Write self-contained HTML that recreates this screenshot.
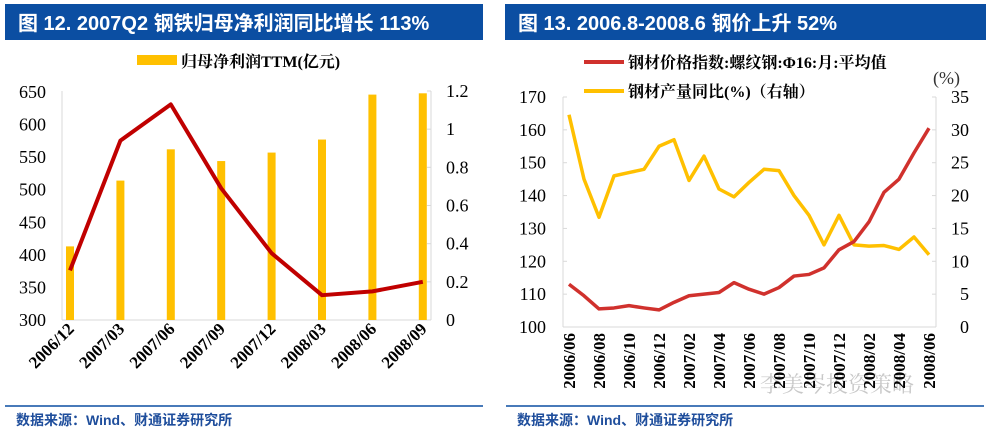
<!DOCTYPE html>
<html><head><meta charset="utf-8"><style>
body{margin:0;width:991px;height:430px;background:#fff;overflow:hidden}
svg text{font-family:"Liberation Serif","Noto Serif CJK SC",serif}
.h{font-family:"Liberation Sans","Noto Sans CJK SC",sans-serif;font-weight:bold}
</style></head><body>
<svg id="s" width="991" height="430" xmlns="http://www.w3.org/2000/svg">
<rect x="5" y="4" width="478" height="36" fill="#0b4ea2"/>
<text class="h" x="18" y="30" fill="#fff" font-size="20">图 12. 2007Q2 钢铁归母净利润同比增长 113%</text>
<rect x="505" y="4" width="481" height="36" fill="#0b4ea2"/>
<text class="h" x="518" y="30" fill="#fff" font-size="20">图 13. 2006.8-2008.6 钢价上升 52%</text>
<line x1="5" y1="406" x2="483" y2="406" stroke="#0b4ea2" stroke-width="1.5"/>
<line x1="506" y1="406" x2="984" y2="406" stroke="#0b4ea2" stroke-width="1.5"/>
<text class="h" x="16" y="425" fill="#1f4e9c" font-size="14">数据来源：Wind、财通证券研究所</text>
<text class="h" x="517" y="425" fill="#1f4e9c" font-size="14">数据来源：Wind、财通证券研究所</text>
<text x="760" y="392" fill="#bbb" font-size="22" font-family="Noto Sans CJK SC,sans-serif" opacity="0.8">李美岑投资策略</text>
<g id="L"></g><g id="R"></g>
</svg>
<script>
const NS="http://www.w3.org/2000/svg";
const lCats=["2006/12","2007/03","2007/06","2007/09","2007/12","2008/03","2008/06","2008/09"];
const lProfit=[413,514,562,544,557,577,646,648];
const lGrowth=[0.26,0.94,1.13,0.69,0.35,0.13,0.15,0.20];
const lLeftTicks=[300,350,400,450,500,550,600,650];
const lRightTicks=["0","0.2","0.4","0.6","0.8","1","1.2"];
const rCats=["2006/06","2006/07","2006/08","2006/09","2006/10","2006/11","2006/12","2007/01","2007/02","2007/03","2007/04","2007/05","2007/06","2007/07","2007/08","2007/09","2007/10","2007/11","2007/12","2008/01","2008/02","2008/03","2008/04","2008/05","2008/06"];
const rPrice=[113,109.5,105.5,105.8,106.5,105.8,105.2,107.5,109.5,110,110.5,113.5,111.5,110,112,115.5,116,118,123.5,126,132,141,145,153,160.5];
const rOutput=[32.3,22.5,16.7,23,23.5,24,27.5,28.5,22.3,26,21,19.8,22,24,23.8,20,17,12.5,17,12.5,12.3,12.4,11.8,13.7,11];
const rLeftTicks=[100,110,120,130,140,150,160,170];
const rRightTicks=[0,5,10,15,20,25,30,35];
function mk(p,t,a,n){const e=document.createElementNS(NS,t);for(const k in a)e.setAttribute(k,a[k]);if(n!=null)e.textContent=n;p.appendChild(e);return e;}
// Left chart
const L=document.getElementById('L');
const ly=v=>320-(v-300)/350*228, lyr=v=>320-v/1.2*229, lx=i=>70+i*50.4;
let e=mk(L,'line',{x1:62,y1:320,x2:431,y2:320,stroke:'#d9d9d9','stroke-width':1});

e=mk(L,'line',{x1:62,y1:91,x2:62,y2:320,stroke:'#d9d9d9'});
e=mk(L,'line',{x1:431,y1:91,x2:431,y2:320,stroke:'#d9d9d9'});
lLeftTicks.forEach(v=>{const t=mk(L,'text',{x:46,y:ly(v)+6,'text-anchor':'end','font-size':18,fill:'#000'},v);
});
lRightTicks.forEach(v=>{const y=lyr(+v);mk(L,'line',{x1:427,y1:y,x2:431,y2:y,stroke:'#d9d9d9'});
const t=mk(L,'text',{x:446,y:y+6,'font-size':18,fill:'#000'},v);});
lProfit.forEach((v,i)=>{const b=mk(L,'rect',{x:lx(i)-4,y:ly(v),width:8,height:320-ly(v),fill:'#ffc000'});
});
lCats.forEach((c,i)=>{const t=mk(L,'text',{transform:`translate(${lx(i)+5},330) rotate(-45)`,'text-anchor':'end','font-size':17,'font-weight':'bold',fill:'#000'},c);
});
e=mk(L,'polyline',{points:lGrowth.map((v,i)=>lx(i)+','+lyr(v)).join(' '),fill:'none',stroke:'#c00000','stroke-width':4,'stroke-linejoin':'round'});

e=mk(L,'rect',{x:137,y:55,width:40,height:10,fill:'#ffc000'});
e=mk(L,'text',{x:181,y:67,'font-size':16,'font-weight':'bold'},'归母净利润TTM(亿元)');
// Right chart
const R=document.getElementById('R');
const ry=v=>327-(v-100)/70*230, ryr=v=>327-v/35*230, rx=i=>569+i*15;
e=mk(R,'line',{x1:563,y1:327,x2:936,y2:327,stroke:'#d9d9d9'});
e=mk(R,'line',{x1:563,y1:97,x2:563,y2:327,stroke:'#d9d9d9'});
e=mk(R,'line',{x1:936,y1:97,x2:936,y2:327,stroke:'#d9d9d9'});
rLeftTicks.forEach(v=>{const y=ry(v);mk(R,'line',{x1:563,y1:y,x2:567,y2:y,stroke:'#d9d9d9'});
const t=mk(R,'text',{x:546,y:y+6,'text-anchor':'end','font-size':18},v);});
rRightTicks.forEach(v=>{const y=ryr(v);mk(R,'line',{x1:932,y1:y,x2:936,y2:y,stroke:'#d9d9d9'});
const t=mk(R,'text',{x:969,y:y+6,'text-anchor':'end','font-size':18},v);});
e=mk(R,'text',{x:933,y:84,'font-size':18,fill:'#333'},'(%)');
rCats.forEach((c,i)=>{if(i%2)return;const t=mk(R,'text',{transform:`translate(${rx(i)+6},333) rotate(-90)`,'text-anchor':'end','font-size':17,'font-weight':'bold'},c);
});
e=mk(R,'polyline',{points:rOutput.map((v,i)=>rx(i)+','+ryr(v)).join(' '),fill:'none',stroke:'#ffc000','stroke-width':3.5,'stroke-linejoin':'round'});

e=mk(R,'polyline',{points:rPrice.map((v,i)=>rx(i)+','+ry(v)).join(' '),fill:'none',stroke:'#d0312d','stroke-width':3.5,'stroke-linejoin':'round'});

e=mk(R,'line',{x1:584,y1:62,x2:624,y2:62,stroke:'#d0312d','stroke-width':4});
e=mk(R,'text',{x:628,y:68,'font-size':16,'font-weight':'bold'},'钢材价格指数:螺纹钢:Φ16:月:平均值');
e=mk(R,'line',{x1:584,y1:91,x2:624,y2:91,stroke:'#ffc000','stroke-width':4});
e=mk(R,'text',{x:628,y:97,'font-size':16,'font-weight':'bold'},'钢材产量同比(%)（右轴）');
</script>
</body></html>
